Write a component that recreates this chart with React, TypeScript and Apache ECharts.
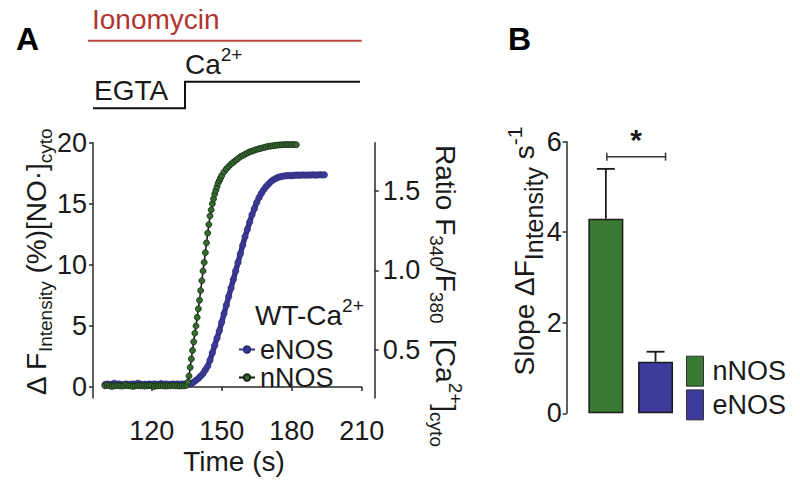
import React, { useEffect, useRef } from 'react';
import * as echarts from 'echarts';

const FONT = '"Liberation Sans", Arial, Helvetica, sans-serif';
const INK = '#1a1a1a';

// ---- Panel A data ----
const timeTicks = [120, 150, 180, 210];
const noTicks = [0, 5, 10, 15, 20];
const ratioTicks = [0.5, 1.0, 1.5];

// eNOS trace: [time (s), ΔF intensity (%)]
const enosTrace: [number, number][] = [
  [100, 0.2], [101, 0.25], [102, 0.2], [103, 0.22], [104, 0.3], [105, 0.2], [106, 0.25], [107, 0.2],
  [108, 0.18], [109, 0.25], [110, 0.2], [111, 0.22], [112, 0.25], [113, 0.2], [114, 0.3], [115, 0.25],
  [116, 0.2], [117, 0.22], [118, 0.2], [119, 0.25], [120, 0.2], [121, 0.25], [122, 0.22], [123, 0.2],
  [124, 0.28], [125, 0.2], [126, 0.25], [127, 0.22], [128, 0.2], [129, 0.25], [130, 0.22], [131, 0.25],
  [132, 0.2], [133, 0.25], [134, 0.22], [135, 0.25], [136, 0.28],
  [137, 0.3], [138, 0.4], [139, 0.55], [140, 0.7], [141, 0.9], [142, 1.1], [143, 1.4], [144, 1.7],
  [145, 2.2], [146, 2.8], [147, 3.4], [148, 4.0], [149, 4.6], [150, 5.3], [151, 6.0], [152, 6.7],
  [153, 7.4], [154, 8.1], [155, 8.8], [156, 9.5], [157, 10.2], [158, 10.9], [159, 11.6], [160, 12.3],
  [161, 12.9], [162, 13.5], [163, 14.1], [164, 14.6], [165, 15.1], [166, 15.5], [167, 15.85],
  [168, 16.15], [169, 16.4], [170, 16.6], [171, 16.8], [172, 16.95], [173, 17.05], [174, 17.15],
  [175, 17.2], [176, 17.25], [177, 17.28], [178, 17.3], [179, 17.32], [180, 17.3], [181, 17.33],
  [182, 17.35], [183, 17.33], [184, 17.35], [185, 17.36], [186, 17.34], [187, 17.36], [188, 17.35],
  [189, 17.37], [190, 17.35], [191, 17.36], [192, 17.38], [193, 17.36], [194, 17.37],
];

// nNOS trace: [time (s), ΔF intensity (%)]
const nnosTrace: [number, number][] = [
  [100, 0.1], [101, 0.15], [102, 0.1], [103, 0.05], [104, 0.1], [105, 0.12], [106, 0.1], [107, 0.08],
  [108, 0.1], [109, 0.15], [110, 0.1], [111, 0.1], [112, 0.05], [113, 0.1], [114, 0.12], [115, 0.1],
  [116, 0.1], [117, 0.08], [118, 0.1], [119, 0.12], [120, 0.1], [121, 0.05], [122, 0.1], [123, 0.1],
  [124, 0.12], [125, 0.1], [126, 0.08], [127, 0.1], [128, 0.1], [129, 0.12], [130, 0.1], [131, 0.1],
  [132, 0.08], [133, 0.1], [134, 0.1],
  [135, 0.15], [135.5, 0.4], [136, 0.9], [136.5, 1.6], [137, 2.3], [137.5, 3.0], [138, 3.7],
  [138.5, 4.4], [139, 5.0], [139.5, 5.7], [140, 6.4], [140.5, 7.1], [141, 7.9], [141.5, 8.7],
  [142, 9.5], [142.5, 10.2], [143, 11.0], [143.5, 11.8], [144, 12.6], [144.5, 13.3], [145, 14.0],
  [145.5, 14.5], [146, 15.0], [146.5, 15.4], [147, 15.8], [147.5, 16.1], [148, 16.4], [148.5, 16.7],
  [149, 16.9], [149.5, 17.1], [150, 17.3],
  [151, 17.6], [152, 17.85], [153, 18.05], [154, 18.25], [155, 18.4], [156, 18.55], [157, 18.7],
  [158, 18.85], [159, 18.95], [160, 19.05], [161, 19.15], [162, 19.25], [163, 19.3], [164, 19.38],
  [165, 19.45], [166, 19.5], [167, 19.55], [168, 19.6], [169, 19.65], [170, 19.7], [171, 19.72],
  [172, 19.75], [173, 19.78], [174, 19.8], [175, 19.82], [176, 19.83], [177, 19.85], [178, 19.85],
  [179, 19.84], [180, 19.86], [181, 19.85], [182, 19.83],
];

// ---- Panel B data ----
const barGroups = ['nNOS', 'eNOS'];
const slopeMean = [4.3, 1.14];
const slopeErr = [1.1, 0.22];
const slopeTicks = [0, 2, 4, 6];
const sigPair = [0, 1];
const sigLevel = 5.67;
const sigMark = '*';

const GREEN = '#3a7a35';
const BLUE = '#3d3b9c';

function buildOption(): any {
  const axisLine = { show: true, lineStyle: { color: '#2a2a2a', width: 1.5 } };
  const tick = (vals: number[]) => ({ show: true, customValues: vals, length: 4, lineStyle: { color: '#2a2a2a', width: 1.5 } });
  const lbl = { fontSize: 27, color: INK, fontFamily: FONT };

  const txt = (x: number, y: number, rotation: number, text: string, rich: any, extra: any = {}) => ({
    type: 'text', x, y, rotation,
    style: {
      text, rich, fill: INK, fontFamily: FONT, fontSize: 28,
      textAlign: 'center', textVerticalAlign: 'middle', align: 'center', verticalAlign: 'middle',
      ...extra,
    },
  });
  const richA = {
    m: { fontSize: 28, fontFamily: FONT, color: INK },
    sub: { fontSize: 19, fontFamily: FONT, color: INK, padding: [18, 0, 0, 0] },
    sup: { fontSize: 19, fontFamily: FONT, color: INK, padding: [0, 0, 20, 0] },
  };
  const richB = {
    m: { fontSize: 28, fontFamily: FONT, color: INK },
    sub: { fontSize: 25, fontFamily: FONT, color: INK, padding: [20, 0, 0, 0] },
    sup: { fontSize: 21, fontFamily: FONT, color: INK, padding: [0, 0, 20, 0] },
  };

  return {
    animation: false,
    backgroundColor: '#ffffff',
    textStyle: { fontFamily: FONT },
    grid: [
      { left: 105, right: 438.3, top: 142.7, bottom: 95 },
      { left: 581, width: 99.4, top: 141.7, bottom: 79.7 },
    ],
    xAxis: [
      {
        type: 'value', gridIndex: 0, min: 100, max: 210, offset: 15,
        axisLine, axisTick: tick(timeTicks),
        axisLabel: { ...lbl, customValues: timeTicks, margin: 7, lineHeight: 22 },
        splitLine: { show: false },
      },
      { type: 'category', gridIndex: 1, data: barGroups, show: false },
    ],
    yAxis: [
      {
        type: 'value', gridIndex: 0, position: 'left', min: -0.9, max: 20, offset: 12,
        axisLine, axisTick: tick(noTicks),
        axisLabel: { ...lbl, customValues: noTicks, margin: 6 },
        splitLine: { show: false },
      },
      {
        type: 'value', gridIndex: 0, position: 'right', min: 0.2, max: 1.8, offset: 13,
        axisLine, axisTick: tick(ratioTicks),
        axisLabel: { ...lbl, customValues: ratioTicks, margin: 8, formatter: (v: number) => v.toFixed(1) },
        splitLine: { show: false },
      },
      {
        type: 'value', gridIndex: 1, min: 0, max: 6, offset: 14.3,
        axisLine, axisTick: tick(slopeTicks),
        axisLabel: { ...lbl, customValues: slopeTicks, margin: 5 },
        splitLine: { show: false },
      },
    ],
    legend: [
      {
        data: ['eNOS', 'nNOS'], orient: 'vertical', left: 233, top: 331,
        itemWidth: 16, itemHeight: 8, itemGap: 1, selectedMode: false,
        textStyle: { fontSize: 27, color: INK, fontFamily: FONT, lineHeight: 27 },
      },
      {
        data: ['nNOS (B)', 'eNOS (B)'], orient: 'vertical', left: 681, top: 350.7,
        itemWidth: 17, itemHeight: 30, itemGap: 2.7, selectedMode: false, icon: 'rect',
        formatter: (n: string) => n.replace(' (B)', ''),
        itemStyle: { borderWidth: 1, borderColor: '#333' },
        textStyle: { fontSize: 27, color: INK, fontFamily: FONT, padding: [0, 0, 0, 4] },
      },
    ],
    series: [
      {
        name: 'eNOS', type: 'line', xAxisIndex: 0, yAxisIndex: 0, data: enosTrace,
        showAllSymbol: true, symbol: 'circle', symbolSize: 6.5, z: 2,
        lineStyle: { color: '#35358e', width: 5.5 },
        itemStyle: { color: '#3a3996', borderColor: '#2b2b6e', borderWidth: 0.5 },
      },
      {
        name: 'nNOS', type: 'line', xAxisIndex: 0, yAxisIndex: 0, data: nnosTrace,
        showAllSymbol: true, symbol: 'circle', symbolSize: 6, z: 3,
        lineStyle: { color: '#111111', width: 1.5 },
        itemStyle: { color: '#36682f', borderColor: '#142a12', borderWidth: 0.8 },
      },
      {
        name: 'nNOS (B)', type: 'bar', xAxisIndex: 1, yAxisIndex: 2,
        data: barGroups.map((g, i) => (g === 'nNOS' ? slopeMean[i] : '-')),
        barWidth: 35, barGap: '-100%', z: 3,
        itemStyle: { color: GREEN, borderColor: INK, borderWidth: 1.5 },
      },
      {
        name: 'eNOS (B)', type: 'bar', xAxisIndex: 1, yAxisIndex: 2,
        data: barGroups.map((g, i) => (g === 'eNOS' ? slopeMean[i] : '-')),
        barWidth: 35, barGap: '-100%', z: 3,
        itemStyle: { color: BLUE, borderColor: INK, borderWidth: 1.5 },
      },
      {
        name: 'sem', type: 'custom', xAxisIndex: 1, yAxisIndex: 2, z: 2,
        data: barGroups.map((_, i) => [i, slopeMean[i], slopeMean[i] + slopeErr[i]]),
        renderItem: (params: any, api: any) => {
          const base = api.coord([api.value(0), api.value(1)]);
          const top = api.coord([api.value(0), api.value(2)]);
          const st = { stroke: INK, lineWidth: 1.8 };
          return {
            type: 'group',
            children: [
              { type: 'line', shape: { x1: base[0], y1: base[1], x2: top[0], y2: top[1] }, style: st },
              { type: 'line', shape: { x1: top[0] - 9, y1: top[1], x2: top[0] + 9, y2: top[1] }, style: st },
            ],
          };
        },
      },
      {
        name: 'sig', type: 'custom', xAxisIndex: 1, yAxisIndex: 2, z: 4,
        data: [[sigPair[0], sigPair[1], sigLevel]],
        renderItem: (params: any, api: any) => {
          const a = api.coord([api.value(0), api.value(2)]);
          const b = api.coord([api.value(1), api.value(2)]);
          const x1 = a[0] + 1;
          const x2 = b[0] + 10;
          const y = a[1];
          const st = { stroke: '#333', lineWidth: 1.5 };
          return {
            type: 'group',
            children: [
              { type: 'line', shape: { x1, y1: y, x2, y2: y }, style: st },
              { type: 'line', shape: { x1, y1: y - 4, x2: x1, y2: y + 4 }, style: st },
              { type: 'line', shape: { x1: x2, y1: y - 4, x2, y2: y + 4 }, style: st },
              {
                type: 'text', x: (x1 + x2) / 2, y: y - 2,
                style: { text: sigMark, fill: INK, font: `bold 30px ${FONT}`, align: 'center', verticalAlign: 'bottom' },
              },
            ],
          };
        },
      },
    ],
    graphic: [
      { type: 'text', x: 16, y: 23, style: { text: 'A', fill: '#000', font: `bold 32px ${FONT}`, textAlign: 'left', textVerticalAlign: 'top' } },
      { type: 'text', x: 508, y: 23, style: { text: 'B', fill: '#000', font: `bold 32px ${FONT}`, textAlign: 'left', textVerticalAlign: 'top' } },
      { type: 'text', x: 92, y: 33, style: { text: 'Ionomycin', fill: '#b0352f', font: `28px ${FONT}`, textAlign: 'left', textVerticalAlign: 'bottom' } },
      { type: 'line', shape: { x1: 88, y1: 40.7, x2: 361.7, y2: 40.7 }, style: { stroke: '#b8473d', lineWidth: 2 } },
      txt(185, 64, 0, '{m|Ca}{sup|2+}', richA, { textAlign: 'left', align: 'left' }),
      { type: 'text', x: 94, y: 104, style: { text: 'EGTA', fill: INK, font: `28px ${FONT}`, textAlign: 'left', textVerticalAlign: 'bottom' } },
      { type: 'polyline', shape: { points: [[93, 108.3], [185, 108.3], [185, 81.7], [360, 81.7]] }, style: { stroke: '#111', lineWidth: 2, fill: null } },
      txt(234, 461, 0, 'Time (s)', { m: { fontSize: 28, fontFamily: FONT, color: INK, lineHeight: 24 } }, { lineHeight: 24 }),
      txt(255, 315, 0, '{m|WT-Ca}{sup|2+}', richA, { textAlign: 'left', align: 'left' }),
      txt(36, 262, Math.PI / 2, '{m|Δ F}{sub|Intensity}{m| (%)[NO·]}{sub|cyto}', richA),
      txt(445, 296, -Math.PI / 2, '{m|Ratio F}{sub|340}{m|/F}{sub|380}{m|  [Ca}{sup|2+}{m|]}{sub|cyto}', richA),
      txt(524, 251, Math.PI / 2, '{m|Slope ΔF}{sub|Intensity}{m| s}{sup|-1}', richB),
    ],
  };
}

export default function App() {
  const ref = useRef<HTMLDivElement>(null);
  useEffect(() => {
    if (!ref.current) return;
    const chart = echarts.init(ref.current, null, { renderer: 'svg' });
    chart.setOption(buildOption());
    return () => chart.dispose();
  }, []);
  return (
    <div
      ref={ref}
      style={{ position: 'fixed', left: 0, top: 0, width: 800, height: 493, background: '#fff' }}
    />
  );
}
